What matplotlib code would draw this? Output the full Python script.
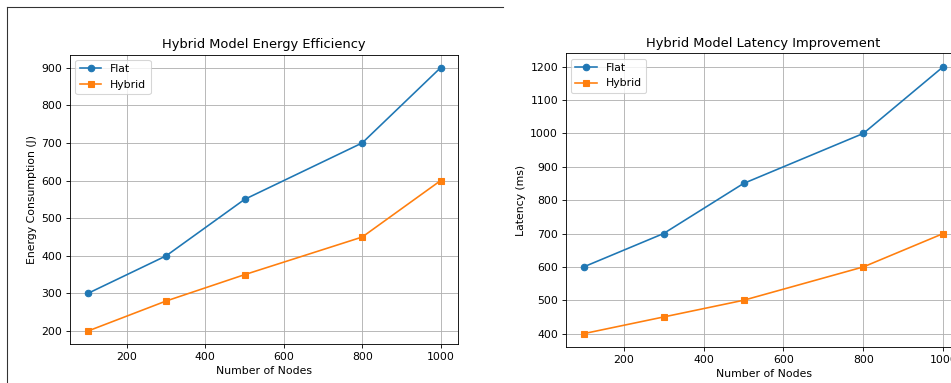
import matplotlib
matplotlib.use("Agg")
import matplotlib.pyplot as plt
from matplotlib.lines import Line2D

nodes = [100, 300, 500, 800, 1000]
energy_flat = [300, 400, 550, 700, 900]
energy_hybrid = [200, 280, 350, 450, 600]
latency_flat = [600, 700, 850, 1000, 1200]
latency_hybrid = [400, 450, 500, 600, 700]

W, H = 951, 383
DPI = 78  # reference looks like a downscaled notebook figure
fig = plt.figure(figsize=(W / DPI, H / DPI), dpi=DPI)


def px_axes(x0, y0, x1, y1):
    # axes box given in pixel coordinates (top-left origin)
    return fig.add_axes([x0 / W, (H - y1) / H, (x1 - x0) / W, (y1 - y0) / H])


ax1 = px_axes(70, 54.5, 458.3, 344.3)
ax1.plot(nodes, energy_flat, marker="o", label="Flat")
ax1.plot(nodes, energy_hybrid, marker="s", label="Hybrid")
ax1.set_title("Hybrid Model Energy Efficiency")
ax1.set_xlabel("Number of Nodes")
ax1.set_ylabel("Energy Consumption (J)")
ax1.legend(loc="upper left")
ax1.grid(True)

ax2 = px_axes(565.7, 53.3, 961.3, 347)
ax2.plot(nodes, latency_flat, marker="o", label="Flat")
ax2.plot(nodes, latency_hybrid, marker="s", label="Hybrid")
ax2.set_title("Hybrid Model Latency Improvement")
ax2.set_xlabel("Number of Nodes")
ax2.set_ylabel("Latency (ms)")
ax2.legend(loc="upper left")
ax2.grid(True)

# cell border left over from the notebook screenshot
fig.add_artist(Line2D([6.7 / W, 6.7 / W], [0, (H - 7.3) / H], color="#333333", lw=1))
fig.add_artist(Line2D([6.7 / W, 502.7 / W], [(H - 7.3) / H, (H - 7.3) / H], color="#333333", lw=1))

fig.savefig("out.png", dpi=DPI)
